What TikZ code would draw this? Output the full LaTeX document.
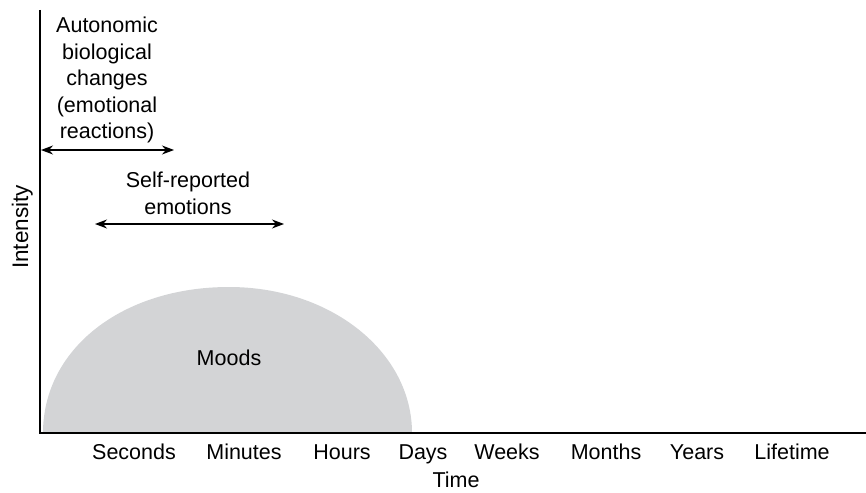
\documentclass[tikz,border=0pt]{standalone}
\usepackage{fontspec}
\setmainfont{Liberation Sans}
\usetikzlibrary{arrows.meta}
\definecolor{moodgray}{RGB}{211,212,214}
\begin{document}
\begin{tikzpicture}[x=1pt,y=-1pt,
  lbl/.style={inner sep=0pt, font=\fontsize{21.5}{26.5}\selectfont},
  tick/.style={lbl, anchor=base},
  span/.style={{Stealth[length=12pt,width=9pt]}-{Stealth[length=12pt,width=9pt]}, line width=1.3pt},
  axis/.style={line width=1.8pt}]
\useasboundingbox (0,0) rectangle (866,492);

% axes
\coordinate (ytop) at (40,10);
\coordinate (origin) at (40,433);
\coordinate (xend) at (866,433);

% mood region: a half ellipse standing on the time axis
\fill[moodgray] (43,433) .. controls (43,349) and (122,287) .. (229,287)
  .. controls (331,287) and (412,352) .. (412,433) -- cycle;
\node[lbl] (moods) at (229,358) {Moods};

\draw[axis] (ytop) -- (origin) -- (xend);

% axis titles
\node[lbl, font=\fontsize{22.5}{27}\selectfont, rotate=90, anchor=base] (ylabel) at (28,227) {Intensity};
\node[tick] (xlabel) at (456,487) {Time};

% time scale
\node[tick] (sec) at (134,459) {Seconds};
\node[tick] (min) at (244,459) {Minutes};
\node[tick] (hrs) at (342,459) {Hours};
\node[tick] (day) at (423,459) {Days};
\node[tick] (wk)  at (507,459) {Weeks};
\node[tick] (mon) at (606,459) {Months};
\node[tick] (yr)  at (697,459) {Years};
\node[tick] (life) at (792,459) {Lifetime};

% autonomic changes
\node[lbl, align=center, anchor=north] (auto) at (107,17)
  {Autonomic\\biological\\changes\\(emotional\\reactions)};
\coordinate (a1) at (41,150);
\coordinate (a2) at (174,150);
\draw[span] (a1) -- (a2);

% self-reported emotions
\node[lbl, align=center, anchor=north] (self) at (188,172)
  {Self-reported\\emotions};
\coordinate (s1) at (95,224);
\coordinate (s2) at (284,224);
\draw[span] (s1) -- (s2);
\end{tikzpicture}
\end{document}
